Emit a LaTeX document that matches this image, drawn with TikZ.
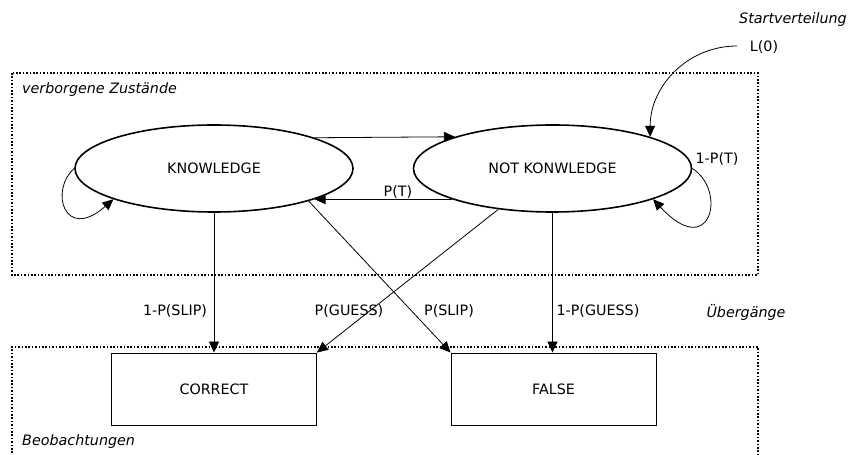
\documentclass[tikz,border=0pt]{standalone}
\usepackage{fontspec}
\setmainfont{DejaVu Sans}
\usetikzlibrary{arrows.meta,shapes.geometric}
\begin{document}
\begin{tikzpicture}[x=1bp,y=-1bp,
  font=\fontsize{14.3bp}{17bp}\selectfont,
  state/.style={ellipse,draw,line width=1.6bp,minimum width=278bp,minimum height=87bp,inner sep=0pt},
  obs/.style={rectangle,draw,line width=0.9bp,minimum width=205bp,minimum height=72bp,inner sep=0pt},
  group/.style={line width=1.6bp,dash pattern=on 1.6bp off 1.8bp},
  conn/.style={line width=0.8bp,-{Triangle[length=11bp,width=10bp]}},
  lbl/.style={inner sep=0pt},
  title/.style={inner sep=0pt,font=\fontsize{14.3bp}{17bp}\selectfont\itshape}]
\useasboundingbox (0,0) rectangle (857,455);

% groups
\draw[group] (12,73) rectangle (758,275);
\draw[group] (12,470) -- (12,347) -- (758,347) -- (758,470);
\node[title,anchor=west] (tHidden) at (22,90) {verborgene Zustände};
\node[title,anchor=west] (tObs) at (22,442) {Beobachtungen};
\node[title,anchor=east] (tStart) at (847,20) {Startverteilung};
\node[title] (tTrans) at (746,312) {Übergänge};

% nodes
\node[state] (know) at (214,168.5) {KNOWLEDGE};
\node[state] (notknow) at (552.5,168.5) {NOT KONWLEDGE};
\node[obs] (correct) at (214,389) {CORRECT};
\node[obs] (false) at (553.5,389) {FALSE};

% connectors
\draw[conn] (know.17.1) -- (notknow.162.9);
\draw[conn] (notknow.197.1) -- (know.-17.1);
\node[lbl] (lPT) at (398,192) {P(T)};

\draw[conn] (know.180) .. controls +(-25,22) and +(-49,43) .. (know.197.5);
\draw[conn] (notknow.0) .. controls +(35,22) and +(58,62.5) .. (notknow.-17.5);
\node[lbl] (l1PT) at (717,159) {1-P(T)};

\coordinate (l0start) at (737,46);
\node[lbl] (lL0) at (764,47) {L(0)};
\draw[conn] (l0start) .. controls +(-50,0) and +(0,-50) .. (notknow.18);

\draw[conn] (know.south) -- (know.south |- correct.north);
\draw[conn] (notknow.south) -- (notknow.south |- false.north);
\draw[conn] (notknow.217.3) -- (correct.north east);
\draw[conn] (know.-19) -- (false.north west);

\node[lbl] (lSlip1) at (175,311) {1-P(SLIP)};
\node[lbl] (lGuess) at (349,311) {P(GUESS)};
\node[lbl] (lSlip) at (449,311) {P(SLIP)};
\node[lbl] (lGuess1) at (598,311) {1-P(GUESS)};
\end{tikzpicture}
\end{document}
